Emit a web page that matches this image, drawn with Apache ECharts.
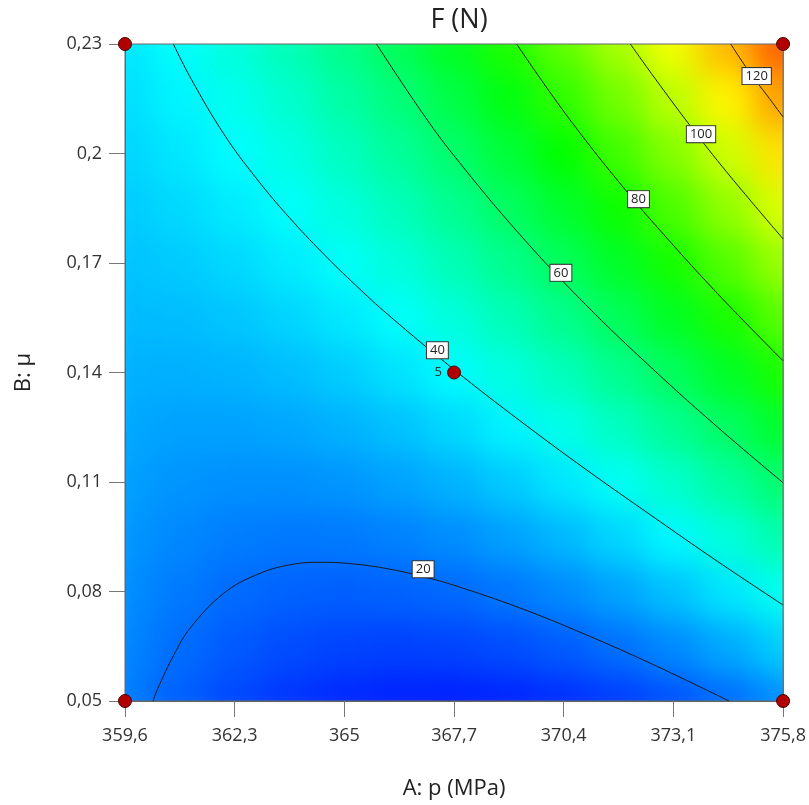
<!DOCTYPE html>
<html>
<head>
<meta charset="utf-8">
<script src="https://cdn.jsdelivr.net/npm/echarts@6/dist/echarts.min.js"></script>
<style>
  html, body { margin: 0; padding: 0; background: #fff; }
  #wrap { position: relative; width: 809px; height: 805px; }
  #clip { position: absolute; left: 0; top: 0; width: 809px; height: 805px; clip-path: inset(44px 25px 103px 125px); }
  #bg { width: 809px; height: 805px; filter: blur(16px); }
  #chart { position: absolute; left: 0; top: 0; width: 809px; height: 805px; }
</style>
</head>
<body>
<div id="wrap">
  <div id="clip"><div id="bg"></div></div>
  <div id="chart"></div>
</div>
<script>
// axis ticks
var pTicks = [359.6, 362.3, 365, 367.7, 370.4, 373.1, 375.8]
var muTicks = [0.05, 0.08, 0.11, 0.14, 0.17, 0.2, 0.23]

// F (N) on a 13 x 13 grid (rows = mu from bottom to top)
var pGrid = [359.6, 360.95, 362.3, 363.65, 365, 366.35, 367.7, 369.05, 370.4, 371.75, 373.1, 374.45, 375.8]
var muGrid = [0.05, 0.065, 0.08, 0.095, 0.11, 0.125, 0.14, 0.155, 0.17, 0.185, 0.2, 0.215, 0.23]
var forceGrid = [
    [22.2, 18.1, 14.8, 12.3, 10.5, 9.5, 9.3, 9.9, 11.3, 13.4, 16.3, 19.9, 24.4],
    [23.4, 19.9, 17.3, 15.4, 14.3, 13.9, 14.4, 15.6, 17.6, 20.4, 23.9, 28.2, 33.3],
    [24.5, 21.7, 19.7, 18.5, 18.0, 18.4, 19.4, 21.3, 23.9, 27.4, 31.5, 36.5, 42.2],
    [25.7, 23.6, 22.2, 21.6, 21.8, 22.8, 24.5, 27.0, 30.3, 34.4, 39.2, 44.8, 51.2],
    [26.9, 25.4, 24.7, 24.8, 25.6, 27.2, 29.6, 32.7, 36.7, 41.4, 46.8, 53.1, 60.1],
    [28.1, 27.3, 27.2, 27.9, 29.4, 31.6, 34.7, 38.5, 43.0, 48.4, 54.5, 61.4, 69.1],
    [29.3, 29.1, 29.7, 31.1, 33.2, 36.1, 39.7, 44.2, 49.4, 55.4, 62.2, 69.7, 78.1],
    [30.6, 31.0, 32.2, 34.2, 37.0, 40.5, 44.8, 49.9, 55.8, 62.5, 69.9, 78.1, 87.0],
    [31.8, 32.9, 34.7, 37.4, 40.8, 45.0, 50.0, 55.7, 62.2, 69.5, 77.6, 86.4, 96.0],
    [33.0, 34.8, 37.3, 40.5, 44.6, 49.5, 55.1, 61.5, 68.6, 76.5, 85.3, 94.7, 105.0],
    [34.3, 36.7, 39.8, 43.7, 48.5, 53.9, 60.2, 67.2, 75.0, 83.6, 93.0, 103.1, 114.0],
    [35.5, 38.6, 42.3, 46.9, 52.3, 58.4, 65.3, 73.0, 81.4, 90.7, 100.7, 111.4, 123.0],
    [36.8, 40.5, 44.9, 50.1, 56.1, 62.9, 70.5, 78.8, 87.9, 97.8, 108.4, 119.8, 132.0]
]

// contour lines [p, mu]
var contourLevels = [20, 40, 60, 80, 100, 120]
var contour20 = [[360.29, 0.05], [360.41, 0.0535], [360.82, 0.063], [361.22, 0.0702], [362.03, 0.0795], [362.84, 0.0846],
    [363.65, 0.0873], [364.46, 0.088], [365.27, 0.0875], [366.08, 0.0862], [366.89, 0.0842], [367.7, 0.0817],
    [369.32, 0.0755], [370.94, 0.0682], [372.56, 0.0602], [374.47, 0.05]]
var contour40 = [[360.79, 0.23], [361.22, 0.2206], [362.03, 0.2054], [362.84, 0.1931], [363.65, 0.1824], [364.46, 0.1728],
    [365.27, 0.164], [366.08, 0.1558], [367.7, 0.1408], [369.32, 0.1268], [370.94, 0.1135], [372.56, 0.1008],
    [374.18, 0.0883], [375.8, 0.0763]]
var contour60 = [[365.79, 0.23], [366.89, 0.2116], [367.7, 0.1994], [369.32, 0.1778], [370.94, 0.1586], [372.56, 0.1413],
    [374.18, 0.1251], [375.8, 0.1098]]
var contour80 = [[369.24, 0.23], [370.13, 0.2157], [370.94, 0.2036], [371.75, 0.1923], [372.56, 0.1816], [374.18, 0.1617],
    [375.8, 0.1432]]
var contour100 = [[372.04, 0.23], [372.56, 0.2219], [373.37, 0.2097], [374.18, 0.1981], [374.99, 0.1872], [375.8, 0.1766]]
var contour120 = [[374.51, 0.23], [374.99, 0.222], [375.4, 0.216], [375.8, 0.21]]
var contourLines = [contour20, contour40, contour60, contour80, contour100, contour120]
var labelPoints = [[366.94, 0.0861], [367.29, 0.1461], [370.33, 0.1673], [372.24, 0.1875], [373.78, 0.2053], [375.15, 0.2212]]

// design points and their run counts
var designPoints = [[359.6, 0.05], [375.8, 0.05], [359.6, 0.23], [375.8, 0.23], [367.7, 0.14]]
var designRuns = [1, 1, 1, 1, 5]

var font = 'Open Sans'
var W = 809, H = 805
var plot = { left: 125, right: 25, top: 44, bottom: 103 }
var cellW = (W - plot.left - plot.right) / (pGrid.length - 1)
var cellH = (H - plot.top - plot.bottom) / (muGrid.length - 1)

// background colour field (blurred by css so the cells blend)
var heat = []
forceGrid.forEach(function (row, j) {
    row.forEach(function (v, i) { heat.push([i, j, v]) })
})

var bg = echarts.init(document.getElementById('bg'))
bg.setOption({
    animation: false,
    grid: {
        left: plot.left - cellW / 2,
        top: plot.top - cellH / 2,
        width: cellW * pGrid.length,
        height: cellH * muGrid.length
    },
    xAxis: { type: 'category', data: pGrid, show: false },
    yAxis: { type: 'category', data: muGrid, show: false },
    visualMap: {
        show: false,
        min: 5,
        max: 145,
        inRange: { color: ['#0000ff', '#00ffff', '#00ff00', '#ffff00', '#ff0000'] }
    },
    series: [{ type: 'heatmap', data: heat, silent: true }]
})

var fmt = function (v) { return String(v).replace('.', ',') }

var series = contourLines.map(function (pts, k) {
    return {
        type: 'line',
        name: 'F = ' + contourLevels[k],
        data: pts,
        smooth: 0.4,
        symbol: 'none',
        silent: true,
        lineStyle: { color: '#1a1a1a', width: 1 },
        z: 3
    }
})

series.push({
    type: 'scatter',
    data: labelPoints.map(function (p, k) { return { value: p, name: String(contourLevels[k]) } }),
    symbolSize: 0,
    silent: true,
    itemStyle: { color: 'rgba(0,0,0,0)', opacity: 1 },
    label: {
        show: true,
        position: 'inside',
        formatter: '{b}',
        backgroundColor: '#fff',
        borderColor: '#333',
        borderWidth: 1,
        padding: [2, 3, 1, 3],
        fontSize: 13,
        color: '#222',
        fontFamily: font
    },
    z: 5
})

series.push({
    type: 'scatter',
    data: designPoints.map(function (p, k) {
        return {
            value: p,
            label: { show: designRuns[k] > 1, formatter: String(designRuns[k]) }
        }
    }),
    symbolSize: 13,
    clip: false,
    silent: true,
    itemStyle: { color: '#b00000', borderColor: '#4d0000', borderWidth: 1, opacity: 1 },
    label: { position: 'left', distance: 5, fontSize: 13, color: '#333', fontFamily: font },
    z: 6
})

var chart = echarts.init(document.getElementById('chart'))
chart.setOption({
    animation: false,
    title: {
        text: 'F (N)',
        left: 454,
        top: 2,
        textAlign: 'center',
        textStyle: { fontSize: 27, fontWeight: 'normal', color: '#222', fontFamily: font }
    },
    grid: {
        left: plot.left,
        right: plot.right,
        top: plot.top,
        bottom: plot.bottom,
        show: true,
        borderColor: '#666',
        borderWidth: 1,
        backgroundColor: 'transparent'
    },
    xAxis: {
        type: 'value',
        min: 359.6,
        max: 375.8,
        name: 'A: p (MPa)',
        nameLocation: 'middle',
        nameGap: 77,
        nameTextStyle: { fontSize: 22, color: '#222', fontFamily: font },
        axisLine: { show: true, lineStyle: { color: '#666' } },
        axisTick: { show: true, length: 16, customValues: pTicks, lineStyle: { color: '#777' } },
        axisLabel: { customValues: pTicks, formatter: fmt, fontSize: 18, color: '#333', margin: 26, fontFamily: font },
        splitLine: { show: false }
    },
    yAxis: {
        type: 'value',
        min: 0.05,
        max: 0.23,
        name: 'B: μ',
        nameLocation: 'middle',
        nameGap: 90,
        nameTextStyle: { fontSize: 22, color: '#222', fontFamily: font },
        axisLine: { show: true, lineStyle: { color: '#666' } },
        axisTick: { show: true, length: 16, customValues: muTicks, lineStyle: { color: '#777' } },
        axisLabel: { customValues: muTicks, formatter: fmt, fontSize: 18, color: '#333', margin: 23, fontFamily: font },
        splitLine: { show: false }
    },
    series: series
})
</script>
</body>
</html>
